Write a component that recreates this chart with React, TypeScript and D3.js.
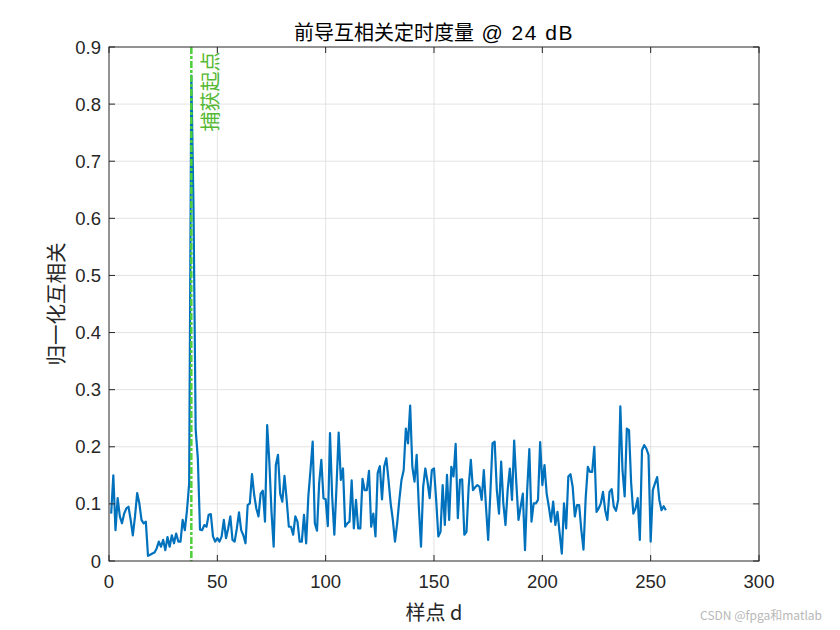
import * as d3 from "d3";
import React from "react";

// normalised cross-correlation per sample (samples 1..257)
const corrValues: number[] = [
  0.083, 0.15, 0.054, 0.11, 0.078, 0.066, 0.083, 0.092, 0.095, 0.072,
  0.045, 0.078, 0.119, 0.101, 0.072, 0.066, 0.069, 0.009, 0.011, 0.013,
  0.015, 0.022, 0.034, 0.025, 0.037, 0.019, 0.042, 0.025, 0.045, 0.031,
  0.048, 0.034, 0.034, 0.072, 0.054, 0.089, 0.136, 0.85, 0.62, 0.23,
  0.18, 0.055, 0.054, 0.063, 0.06, 0.081, 0.082, 0.043, 0.034, 0.04,
  0.034, 0.043, 0.072, 0.04, 0.057, 0.078, 0.037, 0.034, 0.057, 0.085,
  0.054, 0.045, 0.031, 0.098, 0.101, 0.152, 0.116, 0.092, 0.078, 0.118,
  0.123, 0.069, 0.238, 0.174, 0.086, 0.025, 0.168, 0.186, 0.118, 0.104,
  0.149, 0.107, 0.06, 0.06, 0.046, 0.078, 0.069, 0.034, 0.034, 0.081,
  0.031, 0.113, 0.159, 0.209, 0.066, 0.053, 0.136, 0.177, 0.11, 0.108,
  0.061, 0.224, 0.113, 0.046, 0.13, 0.225, 0.142, 0.162, 0.06, 0.066,
  0.069, 0.141, 0.057, 0.107, 0.057, 0.057, 0.144, 0.124, 0.124, 0.158,
  0.06, 0.083, 0.043, 0.154, 0.166, 0.108, 0.165, 0.18, 0.142, 0.101,
  0.072, 0.034, 0.066, 0.107, 0.142, 0.159, 0.232, 0.206, 0.272, 0.165,
  0.139, 0.186, 0.095, 0.025, 0.13, 0.162, 0.139, 0.11, 0.159, 0.162,
  0.107, 0.043, 0.051, 0.133, 0.063, 0.151, 0.072, 0.165, 0.148, 0.205,
  0.075, 0.142, 0.143, 0.046, 0.051, 0.13, 0.177, 0.124, 0.129, 0.133,
  0.13, 0.107, 0.159, 0.095, 0.037, 0.118, 0.206, 0.209, 0.124, 0.083,
  0.174, 0.101, 0.063, 0.124, 0.162, 0.107, 0.211, 0.136, 0.072, 0.095,
  0.118, 0.019, 0.124, 0.196, 0.069, 0.101, 0.101, 0.107, 0.208, 0.133,
  0.168, 0.118, 0.095, 0.069, 0.104, 0.063, 0.086, 0.048, 0.013, 0.101,
  0.057, 0.148, 0.152, 0.13, 0.078, 0.098, 0.098, 0.054, 0.02, 0.11,
  0.165, 0.156, 0.156, 0.2, 0.086, 0.092, 0.101, 0.121, 0.089, 0.072,
  0.121, 0.126, 0.095, 0.088, 0.107, 0.271, 0.159, 0.113, 0.232, 0.229,
  0.136, 0.083, 0.092, 0.11, 0.037, 0.194, 0.203, 0.197, 0.186, 0.034,
  0.124, 0.136, 0.147, 0.107, 0.089, 0.096, 0.089,
];

const startSample = 38;
const xTicks = [0, 50, 100, 150, 200, 250, 300];
const yTicks = [0, 0.1, 0.2, 0.3, 0.4, 0.5, 0.6, 0.7, 0.8, 0.9];

const titleCn = "前导互相关定时度量";
const titleEn = " @ 24 dB";
const xLabel = "样点 d";
const yLabel = "归一化互相关";
const markLabel = "捕获起点";
const watermark = "CSDN @fpga和matlab";

const W = 840;
const H = 630;
const margin = { top: 47, right: 81, bottom: 69, left: 109 };
const axisColor = "#262626";
const latin = "'Liberation Sans', Arial, 'Noto Sans CJK SC', sans-serif";
const cjk = "'Noto Sans CJK SC', 'Liberation Sans', sans-serif";

const App = (): JSX.Element => {
  const x = d3.scaleLinear().domain([0, 300]).range([margin.left, W - margin.right]);
  const y = d3.scaleLinear().domain([0, 0.9]).range([H - margin.bottom, margin.top]);

  const line = d3
    .line<number>()
    .x((_, i) => x(i + 1))
    .y((d) => y(d));

  const x0 = x.range()[0], x1 = x.range()[1];
  const y0 = y.range()[0], y1 = y.range()[1];
  const tick = 6;

  return (
    <svg width={W} height={H} style={{ position: "absolute", left: 0, top: 0, background: "#fff" }}>
      <rect x={0} y={0} width={W} height={H} fill="#fff" />

      {/* grid */}
      <g stroke="#dcdcdc" strokeWidth={0.8}>
        {xTicks.slice(1, -1).map((t) => (
          <line key={"gx" + t} x1={x(t)} x2={x(t)} y1={y0} y2={y1} />
        ))}
        {yTicks.slice(1, -1).map((t) => (
          <line key={"gy" + t} x1={x0} x2={x1} y1={y(t)} y2={y(t)} />
        ))}
      </g>

      {/* data line */}
      <path d={line(corrValues) ?? ""} fill="none" stroke="#0072BD" strokeWidth={2.2} strokeLinejoin="round" />

      {/* start marker */}
      <line
        x1={x(startSample)}
        x2={x(startSample)}
        y1={y1}
        y2={y0}
        stroke="#4fcf3a"
        strokeWidth={2.5}
        strokeDasharray="7 2 3 2"
      />
      <text
        transform={`translate(${x(startSample) + 27},${y(0.752)}) rotate(-90)`}
        fontFamily={cjk}
        fontSize={20}
        fill="#55b832"
      >
        {markLabel}
      </text>

      {/* box + ticks */}
      <rect x={x0} y={y1} width={x1 - x0} height={y0 - y1} fill="none" stroke={axisColor} strokeWidth={1} />
      <g stroke={axisColor} strokeWidth={1}>
        {xTicks.map((t) => (
          <g key={"tx" + t}>
            <line x1={x(t)} x2={x(t)} y1={y0} y2={y0 - tick} />
            <line x1={x(t)} x2={x(t)} y1={y1} y2={y1 + tick} />
          </g>
        ))}
        {yTicks.map((t) => (
          <g key={"ty" + t}>
            <line x1={x0} x2={x0 + tick} y1={y(t)} y2={y(t)} />
            <line x1={x1} x2={x1 - tick} y1={y(t)} y2={y(t)} />
          </g>
        ))}
      </g>

      {/* tick labels */}
      <g fontFamily={latin} fontSize={18.5} fill={axisColor}>
        {xTicks.map((t) => (
          <text key={"lx" + t} x={x(t)} y={y0 + 27} textAnchor="middle">
            {t}
          </text>
        ))}
        {yTicks.map((t) => (
          <text key={"ly" + t} x={x0 - 8} y={y(t) + 6.5} textAnchor="end">
            {d3.format("~g")(t)}
          </text>
        ))}
      </g>

      {/* title */}
      <text x={(x0 + x1) / 2} y={40} textAnchor="middle" fill="#000">
        <tspan fontFamily={cjk} fontSize={20}>{titleCn}</tspan>
        <tspan fontFamily={latin} fontSize={21} letterSpacing={1.5}>{titleEn}</tspan>
      </text>

      {/* axis labels */}
      <text x={(x0 + x1) / 2} y={620} textAnchor="middle" fontFamily={cjk} fontSize={20} fill={axisColor}>
        {xLabel}
      </text>
      <text
        transform={`translate(64,${(y0 + y1) / 2}) rotate(-90)`}
        textAnchor="middle"
        fontFamily={cjk}
        fontSize={20.5}
        fill={axisColor}
      >
        {yLabel}
      </text>

      {/* watermark */}
      <text x={822} y={620} textAnchor="end" fontFamily={cjk} fontSize={12} fill="#b8b8b8">
        {watermark}
      </text>
    </svg>
  );
};

export default App;
